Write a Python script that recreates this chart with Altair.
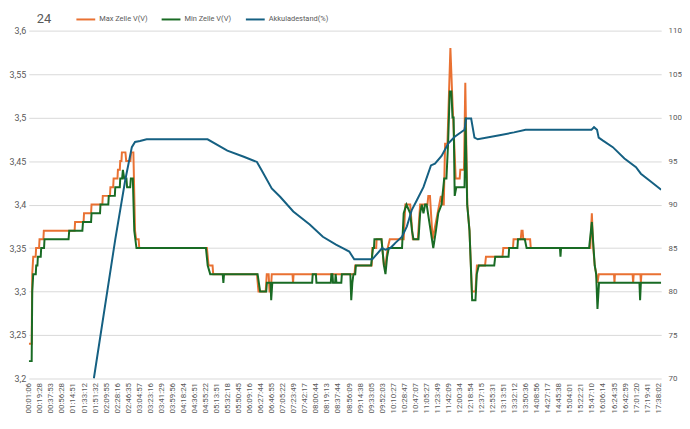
import altair as alt
import pandas as pd

TITLE = "24"
SERIES = ["Max Zelle V(V)", "Min Zelle V(V)", "Akkuladestand(%)"]
COLORS = ["#E97132", "#196B24", "#156082"]

X_LABELS = [
    "00:01:06", "00:19:28", "00:37:53", "00:56:28", "01:14:51", "01:33:12", "01:51:32",
    "02:09:55", "02:28:16", "02:46:35", "03:04:57", "03:23:16", "03:41:29", "03:59:56",
    "04:18:24", "04:36:51", "04:55:22", "05:13:51", "05:32:18", "05:50:45", "06:09:16",
    "06:27:44", "06:46:55", "07:05:22", "07:23:49", "07:42:17", "08:00:44", "08:19:13",
    "08:37:44", "08:56:09", "09:14:38", "09:33:05", "09:52:03", "10:10:27", "10:28:47",
    "10:47:07", "11:05:27", "11:23:49", "11:42:09", "12:00:34", "12:18:54", "12:37:15",
    "12:55:31", "13:13:51", "13:32:12", "13:50:36", "14:08:56", "14:27:17", "14:45:38",
    "15:04:01", "15:22:21", "15:47:10", "16:06:14", "16:24:35", "16:42:59", "17:01:20",
    "17:19:41", "17:38:02",
]
X_MAX = 57.27
LEFT_TICKS = [3.2, 3.25, 3.3, 3.35, 3.4, 3.45, 3.5, 3.55, 3.6]
RIGHT_TICKS = [70, 75, 80, 85, 90, 95, 100, 105, 110]

# position along the time axis, in label steps
MAX_X = [0.00, 0.26, 0.31, 0.40, 0.62, 0.66, 0.93, 0.97, 1.32, 1.36, 4.15, 4.19, 4.96, 5.00,
         5.64, 5.68, 6.66, 6.70, 7.35, 7.39, 7.64, 7.68, 8.03, 8.07, 8.24, 8.28, 8.39, 8.43,
         8.75, 8.82, 9.20, 9.26, 9.47, 9.62, 9.72, 9.95, 10.00, 16.13, 16.28, 16.64, 16.70,
         20.66, 20.80, 21.45, 21.55, 21.72, 21.80, 21.92, 22.00, 23.88, 23.93, 23.98, 29.50,
         29.56, 31.05, 31.11, 31.46, 31.50, 31.94, 32.16, 32.30, 32.50, 32.69, 33.95, 34.10,
         34.54, 34.78, 35.23, 35.44, 36.10, 36.18, 36.33, 36.57, 36.87, 37.17, 37.32, 37.45,
         37.58, 37.70, 37.91, 38.18, 38.33, 38.66, 39.02, 39.08, 39.41, 39.53, 39.71, 39.91,
         40.13, 40.45, 40.58, 41.32, 41.40, 42.90, 42.97, 43.85, 43.90, 44.55, 44.62, 44.72,
         44.78, 45.40, 45.46, 50.85, 50.99, 51.12, 51.25, 51.40, 51.50, 51.62, 53.00, 53.04,
         53.08, 54.68, 54.73, 54.78, 55.39, 55.43, 55.48, 57.27]
MAX_V = [3.24, 3.24, 3.32, 3.34, 3.34, 3.35, 3.35, 3.36, 3.36, 3.37, 3.37, 3.38, 3.38, 3.39,
         3.39, 3.40, 3.40, 3.41, 3.41, 3.42, 3.42, 3.43, 3.43, 3.44, 3.44, 3.45, 3.45, 3.46,
         3.46, 3.45, 3.45, 3.46, 3.46, 3.37, 3.36, 3.36, 3.35, 3.35, 3.33, 3.33, 3.32,
         3.32, 3.30, 3.30, 3.32, 3.32, 3.30, 3.30, 3.32, 3.32, 3.31, 3.32, 3.32,
         3.33, 3.33, 3.35, 3.35, 3.36, 3.36, 3.33, 3.33, 3.35, 3.36, 3.36, 3.40,
         3.40, 3.36, 3.36, 3.40, 3.40, 3.41, 3.41, 3.36, 3.38, 3.40, 3.41, 3.40,
         3.40, 3.47, 3.47, 3.58, 3.53, 3.43, 3.43, 3.44, 3.44, 3.54, 3.40, 3.37,
         3.30, 3.30, 3.33, 3.33, 3.34, 3.34, 3.35, 3.35, 3.36, 3.36, 3.37, 3.37,
         3.36, 3.36, 3.35, 3.35, 3.39, 3.35, 3.33, 3.32, 3.31, 3.32, 3.32, 3.31,
         3.32, 3.32, 3.31, 3.32, 3.32, 3.31, 3.32, 3.32]

MIN_X = [0.00, 0.26, 0.31, 0.40, 0.63, 0.67, 0.78, 0.82, 1.08, 1.12, 1.38, 1.42, 3.60, 3.66,
         4.85, 4.91, 5.64, 5.68, 6.45, 6.49, 7.20, 7.24, 7.79, 7.83, 8.24, 8.28, 8.45, 8.52,
         8.64, 8.84, 8.90, 9.18, 9.24, 9.42, 9.55, 9.65, 9.75, 16.04, 16.20, 16.43, 17.56,
         17.62, 17.68, 20.72, 20.95, 21.50, 21.56, 21.89, 21.95, 22.05, 25.66, 25.71, 26.00,
         26.05, 27.35, 27.40, 27.50, 27.55, 27.74, 27.79, 27.86, 28.30, 28.35, 29.12, 29.20,
         29.30, 29.40, 29.56, 29.62, 31.00, 31.17, 31.26, 31.30, 31.94, 32.16, 32.30, 32.45,
         32.60, 33.80, 33.95, 34.20, 34.54, 34.70, 34.84, 35.29, 35.44, 35.59, 35.74, 35.89,
         36.03, 36.63, 36.87, 37.08, 37.38, 37.62, 37.82, 37.97, 38.12, 38.27, 38.37, 38.47,
         38.57, 38.72, 39.46, 39.55, 39.70, 39.91, 40.15, 40.45, 40.57, 40.75, 42.15, 42.24,
         43.45, 43.50, 44.25, 44.30, 44.92, 45.08, 48.10, 48.15, 48.20, 50.74, 50.99, 51.25,
         51.38, 51.50, 51.64, 55.30, 55.36, 55.43, 57.27]
MIN_V = [3.22, 3.22, 3.30, 3.32, 3.32, 3.33, 3.33, 3.34, 3.34, 3.35, 3.35, 3.36, 3.36, 3.37,
         3.37, 3.38, 3.38, 3.39, 3.39, 3.40, 3.40, 3.41, 3.41, 3.42, 3.42, 3.43, 3.43, 3.44,
         3.43, 3.43, 3.42, 3.42, 3.43, 3.43, 3.37, 3.36, 3.35, 3.35, 3.33, 3.32, 3.32,
         3.31, 3.32, 3.32, 3.30, 3.30, 3.31, 3.31, 3.29, 3.31, 3.31, 3.32, 3.32,
         3.31, 3.31, 3.32, 3.32, 3.31, 3.31, 3.32, 3.31, 3.31, 3.32, 3.32, 3.29,
         3.31, 3.32, 3.32, 3.33, 3.33, 3.35, 3.35, 3.36, 3.36, 3.33, 3.32, 3.34,
         3.35, 3.35, 3.39, 3.40, 3.39, 3.37, 3.36, 3.36, 3.39, 3.40, 3.39, 3.40,
         3.40, 3.35, 3.37, 3.39, 3.40, 3.43, 3.43, 3.47, 3.53, 3.53, 3.50, 3.50,
         3.41, 3.42, 3.42, 3.50, 3.40, 3.37, 3.29, 3.29, 3.32, 3.33, 3.33, 3.34,
         3.34, 3.35, 3.35, 3.36, 3.36, 3.35, 3.35, 3.34, 3.35, 3.35, 3.38, 3.33,
         3.32, 3.28, 3.31, 3.31, 3.29, 3.31, 3.31]

AKKU_X = [5.89, 7.83, 8.73, 9.33, 9.62, 10.07, 10.67, 16.19, 17.98, 19.47, 20.66, 21.11,
          22.00, 22.76, 23.95, 25.44, 26.63, 27.82, 28.43, 29.02, 29.47, 31.11, 32.00, 32.30,
          32.75, 33.20, 33.80, 34.24, 34.69, 35.14, 35.74, 36.42, 36.78, 37.38, 37.98, 38.57,
          39.46, 39.61, 40.06, 40.36, 40.66, 42.75, 43.94, 44.99, 50.96, 51.19, 51.46, 51.61,
          52.00, 52.89, 53.94, 54.99, 55.43, 56.18, 57.27]
AKKU_V = [70.0, 86.0, 92.8, 96.6, 97.2, 97.3, 97.5, 97.5, 96.2, 95.5, 94.9, 93.9,
          91.85, 90.9, 89.2, 87.7, 86.3, 85.4, 85.0, 84.6, 83.7, 83.7, 85.0, 84.8,
          85.0, 85.6, 86.3, 87.5, 89.4, 90.5, 92.0, 94.5, 94.7, 95.6, 97.0, 97.8,
          98.6, 99.9, 99.9, 97.7, 97.5, 98.0, 98.3, 98.6, 98.6, 98.9, 98.6, 97.7,
          97.35, 96.6, 95.3, 94.3, 93.55, 92.8, 91.7]


def frame(xs, vs, name):
    return pd.DataFrame({"x": xs, "v": vs, "series": name, "idx": range(len(xs))})


df_max = frame(MAX_X, MAX_V, SERIES[0])
df_min = frame(MIN_X, MIN_V, SERIES[1])
df_akku = frame(AKKU_X, AKKU_V, SERIES[2])

FONT = "Roboto"
GREY = "#595959"

label_expr = "[" + ",".join("'" + s + "'" for s in X_LABELS) + "][round(datum.value)]"

x_enc = alt.X(
    "x:Q", title=None,
    scale=alt.Scale(domain=[0, X_MAX], nice=False, zero=False),
    axis=alt.Axis(values=list(range(len(X_LABELS))), labelExpr=label_expr, labelAngle=270,
                  labelFontSize=8, labelColor=GREY, labelPadding=4, labelOverlap=False,
                  labelFlush=False, labelBound=False, ticks=False, domain=False, grid=False),
)
y_left = alt.Y(
    "v:Q", title=None,
    scale=alt.Scale(domain=[3.2, 3.6], nice=False, zero=False),
    axis=alt.Axis(values=LEFT_TICKS, orient="left",
                  labelExpr="replace(format(datum.value, '.2~f'), '.', ',')",
                  grid=True, gridColor="#D9D9D9", gridWidth=1, ticks=False, domain=False,
                  labelPadding=3, labelFontSize=9, labelColor=GREY),
)
y_right = alt.Y(
    "v:Q", title=None,
    scale=alt.Scale(domain=[70, 110], nice=False, zero=False),
    axis=alt.Axis(values=RIGHT_TICKS, orient="right", grid=False, ticks=False, domain=False,
                  labelPadding=7, labelFontSize=8, labelColor=GREY),
)
color = alt.Color(
    "series:N",
    scale=alt.Scale(domain=SERIES, range=COLORS),
    legend=alt.Legend(title=None, orient="none", legendX=47, legendY=-22, direction="horizontal",
                      symbolType="stroke", symbolSize=361, symbolStrokeWidth=2,
                      labelFontSize=7.5, labelColor=GREY, labelOffset=3, columnPadding=10,
                      padding=0),
)
order = alt.Order("idx:Q")

orange = alt.Chart(df_max).mark_line(strokeWidth=2, clip=True).encode(x=x_enc, y=y_left, color=color, order=order)
green = alt.Chart(df_min).mark_line(strokeWidth=2, clip=True).encode(x=x_enc, y=y_left, color=color, order=order)
blue = alt.Chart(df_akku).mark_line(strokeWidth=2, clip=True).encode(x=x_enc, y=y_right, color=color, order=order)

chart = (
    alt.layer(alt.layer(orange, green), blue)
    .resolve_scale(y="independent")
    .properties(
        width=638, height=351,
        title=alt.TitleParams(TITLE, anchor="start", frame="group", dx=8, dy=31, offset=4,
                              fontSize=13, baseline="alphabetic", fontWeight="normal",
                              color=GREY, font=FONT),
        padding={"left": 21, "top": 21, "right": 21, "bottom": 36},
        autosize=alt.AutoSizeParams(type="none"),
    )
    .configure(font=FONT)
    .configure_view(stroke=None)
)

chart.save("out.html", embed_options={"renderer": "svg", "actions": False})
